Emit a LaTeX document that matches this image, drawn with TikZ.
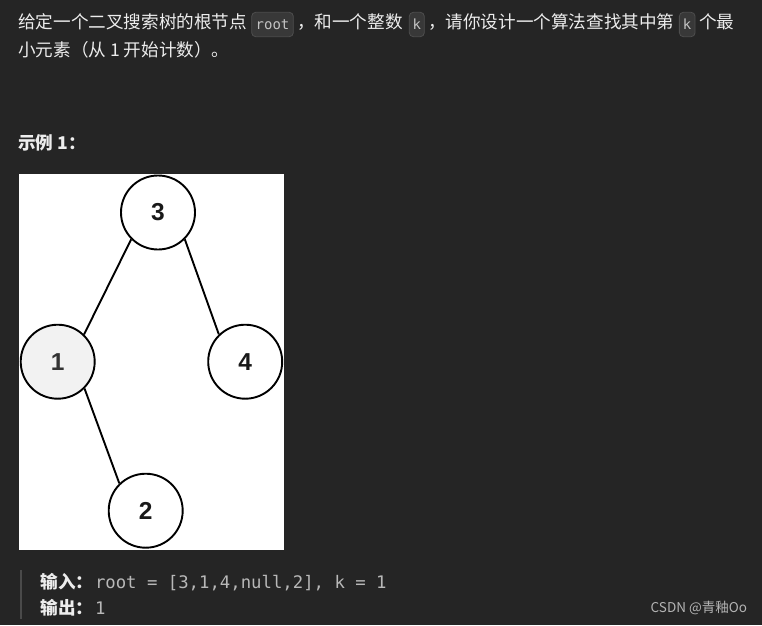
\documentclass[tikz,border=0pt]{standalone}
\usepackage{fontspec}
\setmainfont{Noto Sans CJK SC}
\newfontfamily\monof{DejaVu Sans Mono}
\newfontfamily\arialf{Liberation Sans}
\definecolor{bg}{HTML}{252525}
\definecolor{txt}{HTML}{EDEDED}
\definecolor{codebg}{HTML}{383838}
\definecolor{codeborder}{HTML}{4E4E4E}
\definecolor{codetxt}{HTML}{C4C4C4}
\definecolor{quotebar}{HTML}{4A4A4A}
\definecolor{monotxt}{HTML}{B8B8B8}
\definecolor{wm}{HTML}{B4B4B4}
\definecolor{lightnode}{HTML}{F2F2F2}
\begin{document}
\begin{tikzpicture}[x=1pt,y=-1pt,
  txtnode/.style={anchor=base west,inner sep=0,outer sep=0,text=txt,font=\fontsize{17.6}{20}\selectfont},
  codebox/.style={draw=codeborder,fill=codebg,rounded corners=4pt,line width=0.8pt,inner sep=0,minimum height=24.4pt,text=codetxt,font=\monof\fontsize{14}{16}\selectfont},
  treenode/.style={circle,draw=black,line width=1.9pt,fill=white,minimum size=74pt,inner sep=0,font=\arialf\bfseries\fontsize{24.5}{28}\selectfont,text=black!90},
  edge/.style={draw=black,line width=1.9pt}]
\useasboundingbox (0,0) rectangle (762,625);
\fill[bg] (0,0) rectangle (762,625);
% line 1
\node[txtnode] (t1) at (18.3,28.5) {给定一个二叉搜索树的根节点};
\node[codebox,minimum width=41.6pt] (c1) at (272.5,24.5) {root};
\node[txtnode] (t2) at (297,28.5) {，和一个整数};
\node[codebox,minimum width=15pt] (c2) at (416.8,24.5) {k};
\node[txtnode] (t3) at (428,28.5) {，请你设计一个算法查找其中第};
\node[codebox,minimum width=15.7pt] (c3) at (687.2,24.5) {k};
\node[txtnode] (t4) at (699.3,28.5) {个最};
% line 2
\node[txtnode] (t5) at (18.3,56.7) {小元素（从 1 开始计数）。};
% example heading
\node[txtnode,font=\bfseries\fontsize{17.6}{20}\selectfont] (h1) at (18.3,149.4) {示例 1：};
% image
\node[fill=white,draw=none,minimum width=265pt,minimum height=376pt,inner sep=0] (img) at (151.5,362) {};
\node[treenode] (n3) at (158,212.5) {3};
\node[treenode,fill=lightnode,text=black!80] (n1) at (57.7,361.7) {1};
\node[treenode] (n4) at (245.2,361.7) {4};
\node[treenode] (n2) at (145.7,510.7) {2};
\draw[edge] (n3.225) -- (n1.46);
\draw[edge] (n3.315) -- (n4.134);
\draw[edge] (n1.315) -- (n2.134);
% quote block
\fill[quotebar] (20,570) rectangle (22.2,619);
\node[txtnode,font=\bfseries\fontsize{17.6}{20}\selectfont] (in) at (40.7,588) {输入：};
\node[txtnode,text=monotxt,font=\monof\fontsize{17.3}{20}\selectfont] (inv) at (95,588) {root = [3,1,4,null,2], k = 1};
\node[txtnode,font=\bfseries\fontsize{17.6}{20}\selectfont] (out) at (40.7,614) {输出：};
\node[txtnode,text=monotxt,font=\monof\fontsize{17.3}{20}\selectfont] (outv) at (95,614) {1};
% watermark
\node[txtnode,text=wm,font=\fontsize{13.5}{15}\selectfont] (wmk) at (650.7,612.8) {CSDN @青釉Oo};
\end{tikzpicture}
\end{document}
